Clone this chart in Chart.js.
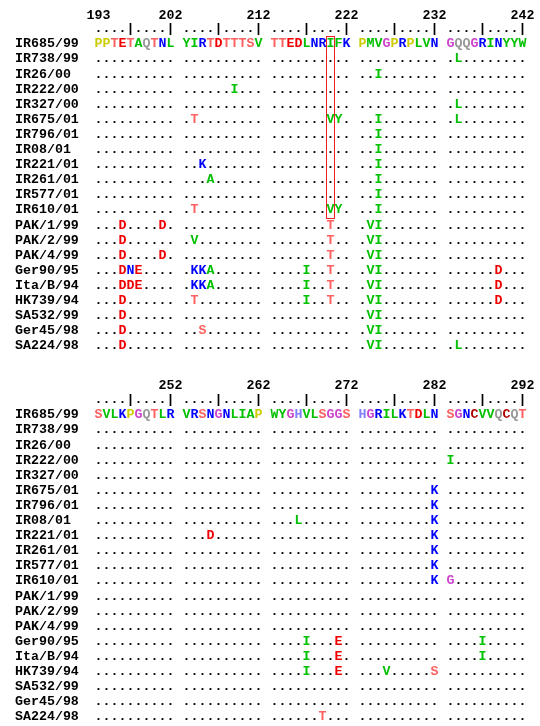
<!DOCTYPE html>
<html><head><meta charset="utf-8">
<script src="https://cdn.jsdelivr.net/npm/chart.js@4/dist/chart.umd.min.js"></script>
<style>
html,body{margin:0;padding:0;background:#fff;overflow:hidden;}
#wrap{position:relative;width:540px;height:726px;overflow:hidden;}
canvas{position:absolute;left:0;}
</style></head><body>
<div id="wrap">
<canvas id="c1" width="540" height="370" style="top:0;width:540px;height:370px"></canvas>
<canvas id="c2" width="540" height="372" style="top:363px;width:540px;height:372px"></canvas>
</div>
<script>
// ---------------- data ----------------
const strains = ["IR685/99","IR738/99","IR26/00","IR222/00","IR327/00","IR675/01","IR796/01","IR08/01",
  "IR221/01","IR261/01","IR577/01","IR610/01","PAK/1/99","PAK/2/99","PAK/4/99","Ger90/95","Ita/B/94",
  "HK739/94","SA532/99","Ger45/98","SA224/98"];
const rulerRow = "....|....| ....|....| ....|....| ....|....| ....|....|";
const numberCols = [0, 9, 20, 31, 42, 53];
const topNumbers = ["193","202","212","222","232","242"];
const bottomNumbers = ["","252","262","272","282","292"];
const topRows = [
  "PPTETAQTNL YIRTDTTTSV TTEDLNRIFK PMVGPRPLVN GQQGRINYYW",
  ".......... .......... .......... .......... .L........",
  ".......... .......... .......... ..I....... ..........",
  ".......... ......I... .......... .......... ..........",
  ".......... .......... .......... .......... .L........",
  ".......... .T........ .......VY. ..I....... .L........",
  ".......... .......... .......... ..I....... ..........",
  ".......... .......... .......... ..I....... ..........",
  ".......... ..K....... .......... ..I....... ..........",
  ".......... ...A...... .......... ..I....... ..........",
  ".......... .......... .......... ..I....... ..........",
  ".......... .T........ .......VY. ..I....... ..........",
  "...D....D. .......... .......T.. .VI....... ..........",
  "...D...... .V........ .......T.. .VI....... ..........",
  "...D....D. .......... .......T.. .VI....... ..........",
  "...DNE.... .KKA...... ....I..T.. .VI....... ......D...",
  "...DDE.... .KKA...... ....I..T.. .VI....... ......D...",
  "...D...... .T........ ....I..T.. .VI....... ......D...",
  "...D...... .......... .......... .VI....... ..........",
  "...D...... ..S....... .......... .VI....... ..........",
  "...D...... .......... .......... .VI....... .L........"
];
const bottomRows = [
  "SVLKPGQTLR VRSNGNLIAP WYGHVLSGGS HGRILKTDLN SGNCVVQCQT",
  ".......... .......... .......... .......... ..........",
  ".......... .......... .......... .......... ..........",
  ".......... .......... .......... .......... I.........",
  ".......... .......... .......... .......... ..........",
  ".......... .......... .......... .........K ..........",
  ".......... .......... .......... .........K ..........",
  ".......... .......... ...L...... .........K ..........",
  ".......... ...D...... .......... .........K ..........",
  ".......... .......... .......... .........K ..........",
  ".......... .......... .......... .........K ..........",
  ".......... .......... .......... .........K G.........",
  ".......... .......... .......... .......... ..........",
  ".......... .......... .......... .......... ..........",
  ".......... .......... .......... .......... ..........",
  ".......... .......... ....I...E. .......... ....I.....",
  ".......... .......... ....I...E. .......... ....I.....",
  ".......... .......... ....I...E. ...V.....S ..........",
  ".......... .......... .......... .......... ..........",
  ".......... .......... .......... .......... ..........",
  ".......... .......... ......T... .......... .........."
];
const highlightTop = {col: 29, firstRow: 0, lastRow: 11};
const residueColors = {
  P:"#cccc00", T:"#ff6060", E:"#f00000", D:"#f00000", S:"#ff6060",
  A:"#00c000", L:"#00c000", Y:"#00c000", I:"#00c000", V:"#00c000", M:"#00c000", W:"#00c000", F:"#00c000",
  N:"#0000ff", R:"#0000ff", K:"#0000ff", H:"#8080ff",
  Q:"#999999", G:"#cc44cc", C:"#b00000",
  ".":"#000000", "|":"#000000"
};
// ---------------- chart ----------------
const FONT = '"Liberation Mono","Courier New",monospace';
const FS = 13.3;

function buildDatasets(rows) {
  const all = [{name: "ruler", text: rulerRow, row: -1}].concat(rows.map((t, i) => ({name: strains[i], text: t, row: i})));
  return all.map(r => {
    const pts = [], chars = [], cols = [];
    for (let c = 0; c < r.text.length; c++) {
      const ch = r.text[c];
      if (ch === " ") continue;
      pts.push({x: c, y: r.row});
      chars.push(ch);
      cols.push(residueColors[ch] || "#000");
    }
    return {label: r.name, data: pts, chars: chars, charColors: cols, pointRadius: 0, pointHoverRadius: 0, showLine: false, clip: false};
  });
}

const textPlugin = {
  id: "residueText",
  afterDatasetsDraw(chart) {
    const ctx = chart.ctx;
    ctx.save();
    ctx.font = "bold " + FS + "px " + FONT;
    ctx.textAlign = "center";
    ctx.textBaseline = "middle";
    chart.data.datasets.forEach((ds, di) => {
      const meta = chart.getDatasetMeta(di);
      meta.data.forEach((pt, i) => {
        ctx.fillStyle = ds.charColors[i];
        ctx.fillText(ds.chars[i], pt.x, pt.y);
      });
    });
    ctx.restore();
  }
};

const boxPlugin = {
  id: "highlightBox",
  afterDraw(chart, args, opts) {
    if (!opts || !opts.box) return;
    const b = opts.box, xs = chart.scales.x, ys = chart.scales.y, ctx = chart.ctx;
    const x1 = Math.round(xs.getPixelForValue(b.col - 0.5)) - 0.5;
    const x2 = Math.round(xs.getPixelForValue(b.col + 0.5)) - 0.5;
    const y1 = Math.round(ys.getPixelForValue(b.firstRow - 0.5)) + 0.5;
    const y2 = Math.round(ys.getPixelForValue(b.lastRow + 0.5)) + 0.5;
    ctx.save();
    ctx.strokeStyle = "#ee2020";
    ctx.lineWidth = 1;
    ctx.strokeRect(x1, y1, x2 - x1, y2 - y1);
    ctx.restore();
  }
};

function makeChart(id, rows, numbers, box, padTop, padBottom, numPad) {
  return new Chart(document.getElementById(id), {
    type: "scatter",
    data: {datasets: buildDatasets(rows)},
    plugins: [textPlugin, boxPlugin],
    options: {
      responsive: false, animation: false, devicePixelRatio: 1,
      events: [],
      layout: {padding: {left: 15, right: 13.5, top: padTop, bottom: padBottom}},
      plugins: {legend: {display: false}, tooltip: {enabled: false}, highlightBox: {box: box}},
      scales: {
        x: {
          type: "linear", position: "top", min: -0.5, max: 53.5,
          grid: {display: false, drawTicks: false}, border: {display: false},
          afterBuildTicks: s => { s.ticks = numberCols.map(v => ({value: v})); },
          afterFit: s => { s.height = 16; },
          ticks: {autoSkip: false, maxRotation: 0, padding: numPad, color: "#000",
            font: {family: FONT, size: FS, weight: "bold"},
            callback: v => numbers[numberCols.indexOf(v)]}
        },
        y: {
          type: "linear", reverse: true, min: -1.5, max: 20.5,
          grid: {display: false, drawTicks: false}, border: {display: false},
          afterBuildTicks: s => { s.ticks = strains.map((n, i) => ({value: i})); },
          afterFit: s => { s.width = 79.5; },
          ticks: {autoSkip: false, crossAlign: "far", padding: 0, color: "#000",
            font: {family: FONT, size: FS, weight: "bold"},
            callback: v => strains[v]}
        }
      }
    }
  });
}

makeChart("c1", topRows, topNumbers, highlightTop, 5.35, 16.45, -2);
makeChart("c2", bottomRows, bottomNumbers, null, 13.35, 10.45, -1);
</script>
</body></html>
